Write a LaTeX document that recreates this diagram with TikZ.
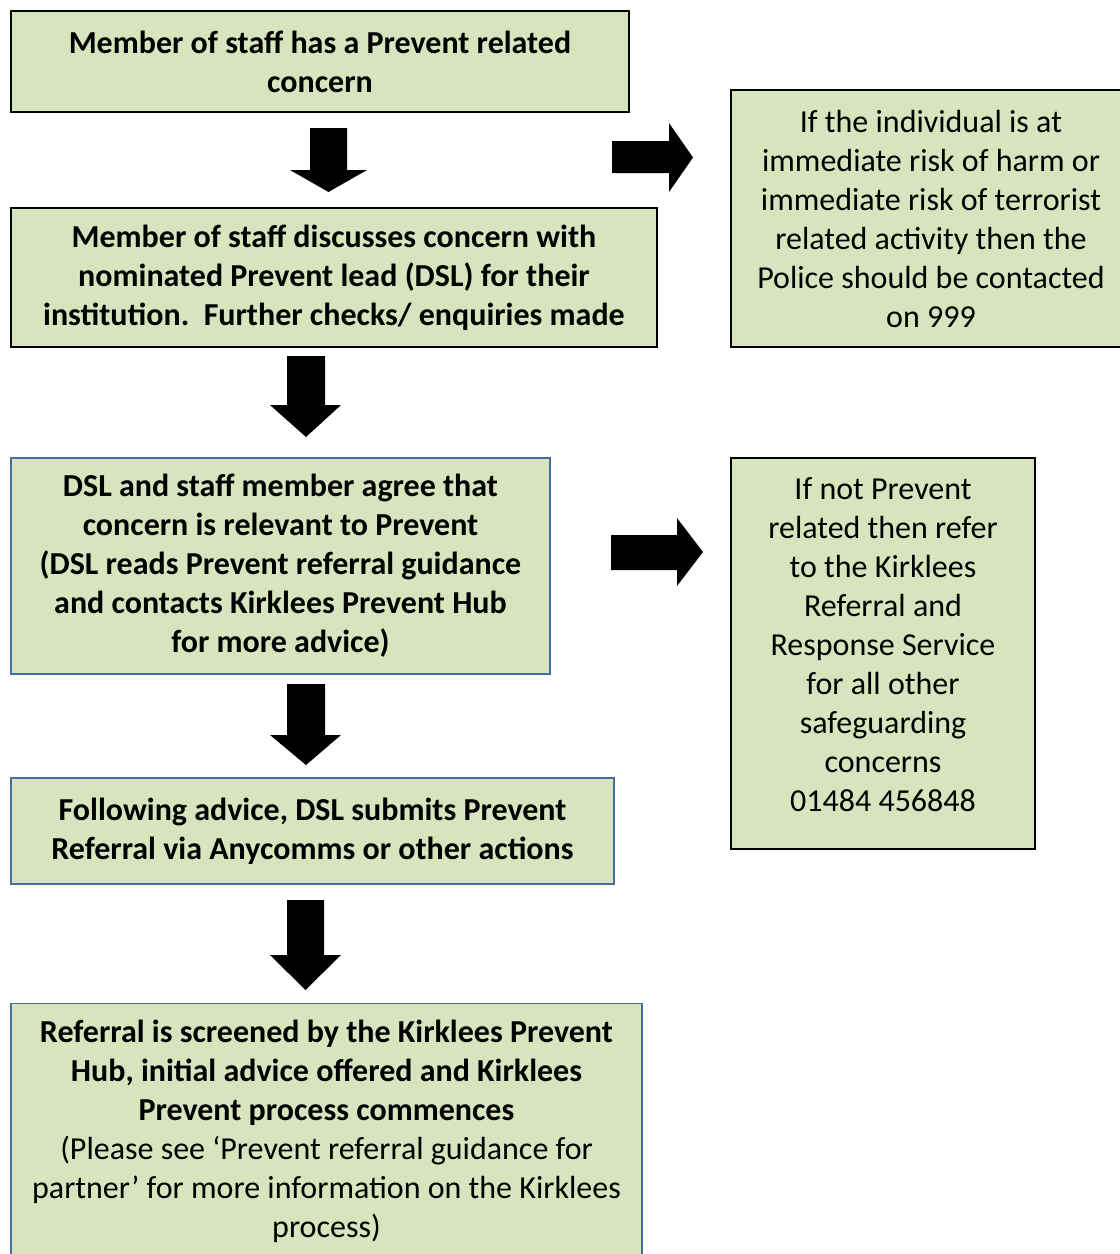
\documentclass[tikz,border=0pt]{standalone}
\usepackage{fontspec}
\setmainfont{Carlito}
\definecolor{boxfill}{HTML}{D7E4BD}
\definecolor{blueline}{HTML}{41719C}
\newcommand{\tsz}{\fontsize{32}{39}\selectfont}
\begin{document}
\begin{tikzpicture}[x=1pt,y=-1pt,
  box/.style={draw=black,fill=boxfill,line width=1.2pt,inner sep=0pt,
    align=center,font=\tsz},
  bbox/.style={box,draw=blueline},
  txt/.style={align=center,inner sep=0pt,font=\tsz},
  blk/.style={fill=black}]
\useasboundingbox (0,0) rectangle (1120,1254);
\begin{scope}
\clip (0,0) rectangle (1120,1254);
% boxes
\node[box,minimum width=618pt,minimum height=101pt,font=\bfseries\tsz] (b1) at (320,61.5)
  {Member of staff has a Prevent related\\concern};
\node[box,minimum width=646pt,minimum height=139pt,font=\bfseries\tsz] (b2) at (334,277.5)
  {Member of staff discusses concern with\\nominated Prevent lead (DSL) for their\\institution.\ \ Further checks/ enquiries made};
\node[box,minimum width=400pt,minimum height=257pt] (r1) at (931,218.5)
  {If the individual is at\\immediate risk of harm or\\immediate risk of terrorist\\related activity then the\\Police should be contacted\\on 999};
\node[bbox,minimum width=539pt,minimum height=216pt,font=\bfseries\tsz] (b3) at (280.5,566)
  {DSL and staff member agree that\\concern is relevant to Prevent\\(DSL reads Prevent referral guidance\\and contacts Kirklees Prevent Hub\\for more advice)};
\node[box,minimum width=304pt,minimum height=391pt] (r2) at (883,653.5) {};
\node[txt] (r2t) at (883,645)
  {If not Prevent\\related then refer\\to the Kirklees\\Referral and\\Response Service\\for all other\\safeguarding\\concerns\\01484 456848};
\node[bbox,minimum width=603pt,minimum height=106pt,font=\bfseries\tsz] (b4) at (312.5,831)
  {Following advice, DSL submits Prevent\\Referral via Anycomms or other actions};
\node[bbox,minimum width=631pt,minimum height=260pt,anchor=north] (b5) at (326.5,1003) {};
\node[txt] (b5t) at (326.5,1131.5)
  {\textbf{Referral is screened by the Kirklees Prevent}\\\textbf{Hub, initial advice offered and Kirklees}\\\textbf{Prevent process commences}\\(Please see ‘Prevent referral guidance for\\partner’ for more information on the Kirklees\\process)};
\end{scope}
% block arrows down
\fill[blk] (310,128) -- (347,128) -- (347,170) -- (367,170) -- (328.5,192) -- (290,170) -- (310,170) -- cycle;
\fill[blk] (287,356) -- (325,356) -- (325,405) -- (341,405) -- (306,437) -- (270,405) -- (287,405) -- cycle;
\fill[blk] (287,684) -- (325,684) -- (325,735) -- (341,735) -- (306,765) -- (270,735) -- (287,735) -- cycle;
\fill[blk] (287,900) -- (324,900) -- (324,955) -- (341,955) -- (305.5,990) -- (270,955) -- (287,955) -- cycle;
% block arrows right
\fill[blk] (612,141) -- (669,141) -- (669,123) -- (693,157.5) -- (669,192) -- (669,173) -- (612,173) -- cycle;
\fill[blk] (611,535) -- (677,535) -- (677,518) -- (703,552) -- (677,586) -- (677,570) -- (611,570) -- cycle;
\end{tikzpicture}
\end{document}
